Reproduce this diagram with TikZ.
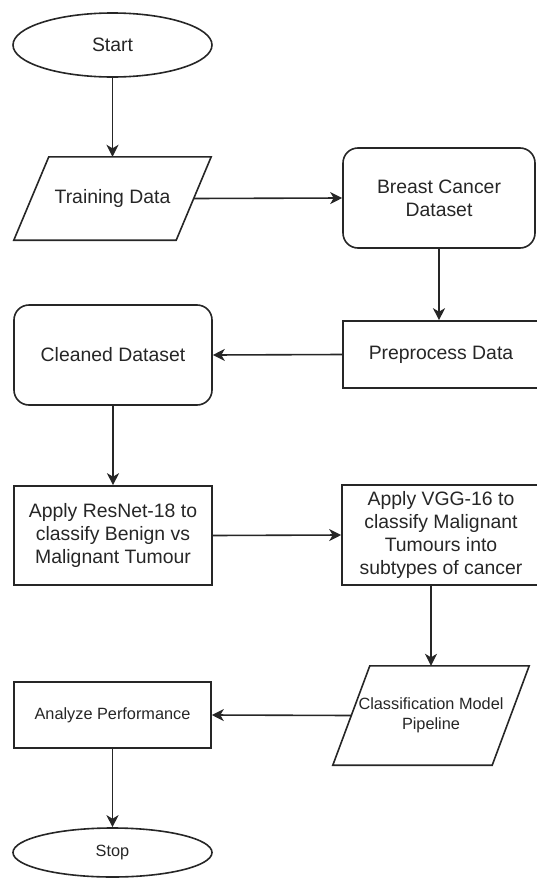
\documentclass[tikz,border=0pt]{standalone}
\usepackage{fontspec}
\setmainfont{Liberation Sans}
\usetikzlibrary{shapes.geometric,arrows.meta}

\begin{document}
\begin{tikzpicture}[x=1pt,y=-1pt,
    line/.style={draw=black!85,line width=1.6pt},
    arr/.style={line,-{Stealth[length=12pt,width=12pt,inset=3.5pt]}},
    txt/.style={text=black!85,align=center,font=\fontsize{19.4}{23}\selectfont},
    small/.style={text=black!85,align=center,font=\fontsize{16.3}{20}\selectfont},
    box/.style={line,rectangle,inner sep=0pt},
    rbox/.style={box,rounded corners=15pt},
    io/.style={inner sep=0pt}]
    \useasboundingbox (0,0) rectangle (537,878);

    % terminals and process boxes
    \node[line,txt,ellipse,inner sep=0pt,minimum width=199pt,minimum height=64pt] (start) at (112.5,45) {Start};
    \node[rbox,txt,minimum width=192pt,minimum height=100pt] (bcd) at (439,198) {Breast Cancer\\Dataset};
    \node[box,txt,minimum width=196pt,minimum height=67pt] (prep) at (441,354.5) {Preprocess Data};
    \node[rbox,txt,minimum width=198pt,minimum height=100pt] (clean) at (113,355) {Cleaned Dataset};
    \node[box,txt,minimum width=198pt,minimum height=99pt] (resnet) at (113,535.5) {Apply ResNet-18 to\\classify Benign vs\\Malignant Tumour};
    \node[box,txt,minimum width=198pt,minimum height=100pt] (vgg) at (441,535) {Apply VGG-16 to\\classify Malignant\\Tumours into\\subtypes of cancer};
    \node[box,small,minimum width=197pt,minimum height=66pt] (perf) at (112.5,715) {Analyze Performance};
    \node[line,small,ellipse,inner sep=0pt,minimum width=199pt,minimum height=49pt] (stop) at (112.5,852.5) {Stop};

    % data (parallelogram) boxes
    \node[io,txt,minimum width=162pt,minimum height=83pt] (train) at (112.5,198.5) {Training Data};
    \draw[line] ([xshift=17.5pt]train.north west) -- ([xshift=17.5pt]train.north east)
        -- ([xshift=-17.5pt]train.south east) -- ([xshift=-17.5pt]train.south west) -- cycle;
    \node[io,small,minimum width=159pt,minimum height=99pt] (cls) at (431,715.5) {Classification Model\\Pipeline};
    \draw[line] ([xshift=18.5pt]cls.north west) -- ([xshift=18.5pt]cls.north east)
        -- ([xshift=-18.5pt]cls.south east) -- ([xshift=-18.5pt]cls.south west) -- cycle;

    % flow
    \draw[arr] (start.south) -- (train.north);
    \draw[arr] (train.east) -- (bcd.west);
    \draw[arr] (bcd.south) -- (bcd.south |- prep.north);
    \draw[arr] (prep.west) -- (clean.east);
    \draw[arr] (clean.south) -- (resnet.north);
    \draw[arr] (resnet.east) -- (vgg.west);
    \draw[arr] (vgg.south -| cls.north) -- (cls.north);
    \draw[arr] (cls.west) -- (perf.east);
    \draw[arr] (perf.south) -- (stop.north);
\end{tikzpicture}
\end{document}
